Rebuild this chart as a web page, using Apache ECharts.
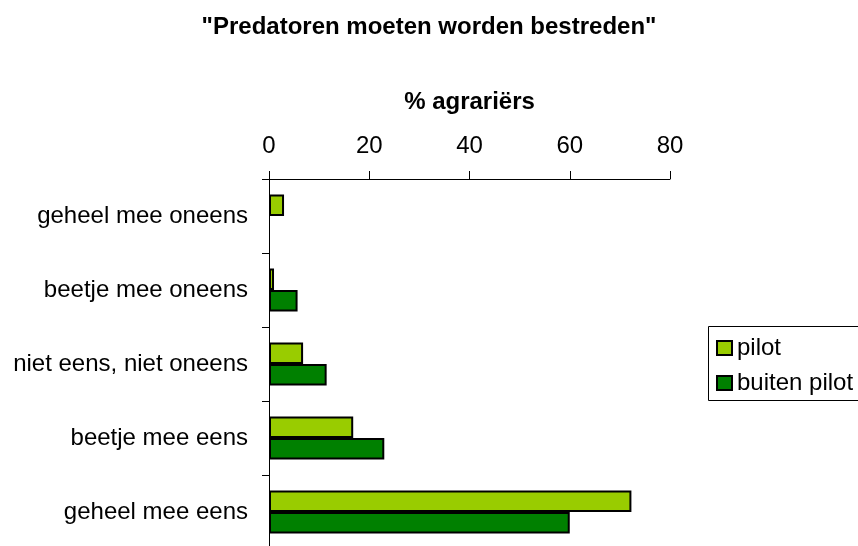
<!DOCTYPE html>
<html>
<head>
<meta charset="utf-8">
<script src="https://cdn.jsdelivr.net/npm/echarts@6/dist/echarts.min.js"></script>
<style>
  html, body { margin: 0; padding: 0; background: #fff; }
  #box { width: 858px; height: 546px; }
</style>
</head>
<body>
<div id="box"></div>
<script>
// categories (top to bottom)
var categories = [
    'geheel mee oneens',
    'beetje mee oneens',
    'niet eens, niet oneens',
    'beetje mee eens',
    'geheel mee eens'
];
// % agrariërs per antwoord
var pilot = [3, 1, 6.8, 16.8, 72.3];
var buitenPilot = [0, 5.7, 11.5, 23, 60];
// x axis ticks
var xMin = 0, xMax = 80, xStep = 20;

var font = '"Liberation Sans", Arial, sans-serif';

// a 0 value gets no bar at all (no border line on the axis)
function bars(arr) {
    return arr.map(function (v) { return v === 0 ? '-' : v; });
}

var myChart = echarts.init(document.getElementById('box'));

var option = {
    backgroundColor: '#fff',
    animation: false,
    title: {
        text: '"Predatoren moeten worden bestreden"',
        left: 'center',
        top: 10,
        textStyle: { fontFamily: font, fontSize: 24, fontWeight: 'bold', color: '#000' }
    },
    // legend frame runs off the right edge, like in the original
    graphic: [{
        type: 'rect',
        shape: { x: 708.5, y: 326.5, width: 170, height: 74 },
        style: { fill: 'none', stroke: '#000', lineWidth: 1 },
        silent: true
    }],
    legend: {
        orient: 'vertical',
        left: 708,
        top: 326,
        padding: [10, 0, 5, 8],
        itemGap: 11,
        itemWidth: 15,
        itemHeight: 14,
        icon: 'rect',
        textStyle: { fontFamily: font, fontSize: 24, color: '#000' },
        data: ['pilot', 'buiten pilot']
    },
    grid: {
        left: 269,
        top: 179,
        width: 401,
        height: 370,
        outerBoundsMode: 'none'
    },
    xAxis: {
        type: 'value',
        position: 'top',
        min: xMin,
        max: xMax,
        interval: xStep,
        name: '% agrariërs',
        nameLocation: 'middle',
        nameGap: 65,
        nameTextStyle: { fontFamily: font, fontSize: 24, fontWeight: 'bold', color: '#000' },
        axisLine: { show: true, lineStyle: { color: '#000', width: 1 } },
        axisTick: { show: true, length: 8, lineStyle: { color: '#000' } },
        axisLabel: { fontFamily: font, fontSize: 24, color: '#000', margin: 21 },
        splitLine: { show: false }
    },
    yAxis: {
        type: 'category',
        inverse: true,
        data: categories,
        axisLine: { show: true, lineStyle: { color: '#000', width: 1 } },
        axisTick: { show: true, length: 7, lineStyle: { color: '#000' } },
        axisLabel: { fontFamily: font, fontSize: 24, color: '#000', margin: 21 },
        splitLine: { show: false }
    },
    series: [
        {
            name: 'pilot',
            type: 'bar',
            data: bars(pilot),
            barGap: '0%',
            barCategoryGap: '42%',
            itemStyle: { color: '#99cc00', borderColor: '#000', borderWidth: 2 }
        },
        {
            name: 'buiten pilot',
            type: 'bar',
            data: bars(buitenPilot),
            barGap: '0%',
            barCategoryGap: '42%',
            itemStyle: { color: '#008000', borderColor: '#000', borderWidth: 2 }
        }
    ]
};

myChart.setOption(option);
</script>
</body>
</html>
